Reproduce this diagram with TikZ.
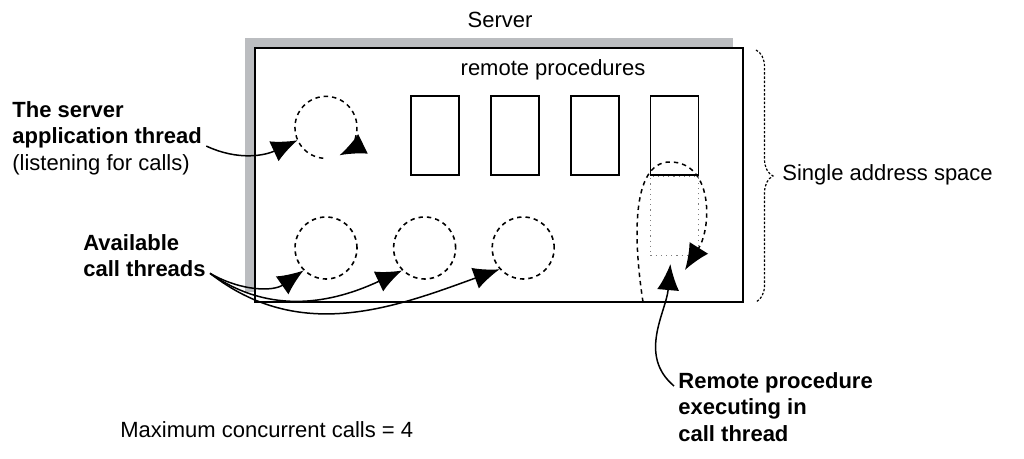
\documentclass[tikz,border=0pt]{standalone}
\usepackage{fontspec}
\setmainfont{Liberation Sans}
\usetikzlibrary{positioning, arrows.meta, shadows, decorations.pathreplacing}

\definecolor{shadowgray}{RGB}{187,189,192}

\tikzset{
	proc/.style={draw, line width=0.9pt, minimum width=24pt, minimum height=39.5pt, inner sep=0pt},
	thread/.style={circle, draw, line width=0.8pt, dash pattern=on 2.2pt off 2pt, minimum size=31pt, inner sep=0pt},
	threadline/.style={line width=0.8pt, dash pattern=on 2.2pt off 2pt},
	lbl/.style={inner sep=0pt, align=left, font=\fontsize{11}{13.2}\selectfont},
	pointer/.style={-{Latex[length=13pt,width=11pt]}, line width=0.75pt},
}

\begin{document}
\begin{tikzpicture}[x=0.5pt, y=0.5pt]
		
		\useasboundingbox (0,0) rectangle (1024,459);
		
		\node[draw, fill=white, line width=1pt, minimum width=244pt, minimum height=127pt, inner sep=0pt,
		      general shadow={fill=shadowgray, shadow xshift=-5pt, shadow yshift=5pt}] (server) at (499,284) {};
		\node[lbl] (srvname) at (500,439) {Server};
		\node[lbl] (remote) at (553,389) {remote procedures};
		
		\node[proc] (p1) at (435,323.5) {};
		\node[proc, right=15pt of p1] (p2) {};
		\node[proc, right=15pt of p2] (p3) {};
		\node[proc, right=15pt of p3] (p4) {};
		\node[draw=gray, dotted, line width=0.6pt, minimum width=24pt, minimum height=39.5pt, inner sep=0pt,
		      below=0pt of p4] (running) {};
		
		\node[circle, minimum size=31pt, inner sep=0pt] (appthr) at (326,332) {};
		\node[thread] (c1) at (326,211) {};
		\node[thread, right=17.5pt of c1] (c2) {};
		\node[thread, right=17.5pt of c2] (c3) {};
		
		% listening thread and executing thread
		\draw[threadline, pointer] (appthr.-95) arc[start angle=-95, end angle=-424, radius=15.5pt];
		\draw[threadline, pointer] (643,157) .. controls (634,215) and (630,297) .. (670,297)
		      .. controls (713,297) and (712,232) .. (685,189);
		
		% single address space
		\draw[line width=0.6pt, dash pattern=on 1.2pt off 0.9pt, decorate, decoration={brace, amplitude=8.5pt}]
		      (756,409) -- (756,157);
		\node[lbl, anchor=west] (space) at (782,284) {Single address space};
		
		\node[lbl, anchor=north west] (applbl) at (12,358)
		      {\textbf{The server}\\\textbf{application thread}\\(listening for calls)};
		\node[lbl, anchor=north west] (avail) at (83,225) {\textbf{Available}\\\textbf{call threads}};
		\node[lbl, anchor=north west] (rplbl) at (678,87)
		      {\textbf{Remote procedure}\\\textbf{executing in}\\\textbf{call thread}};
		\node[lbl, anchor=north west] (maxcalls) at (120,38) {Maximum concurrent calls = 4};
		
		\draw[pointer] ([shift={(2pt,-4pt)}]applbl.east) to[out=-25, in=205] (appthr.205);
		\draw[pointer] ([shift={(2pt,2pt)}]avail.south east) to[out=-30, in=215] (c1.225);
		\draw[pointer] ([shift={(2pt,2pt)}]avail.south east) to[out=-35, in=205] (c2.225);
		\draw[pointer] ([shift={(2pt,2pt)}]avail.south east) to[out=-38, in=200] (c3.222);
		\draw[pointer] ([shift={(-2pt,-7pt)}]rplbl.north west) to[out=140, in=-95] ([shift={(-2pt,-4pt)}]running.south);
		
\end{tikzpicture}
\end{document}
